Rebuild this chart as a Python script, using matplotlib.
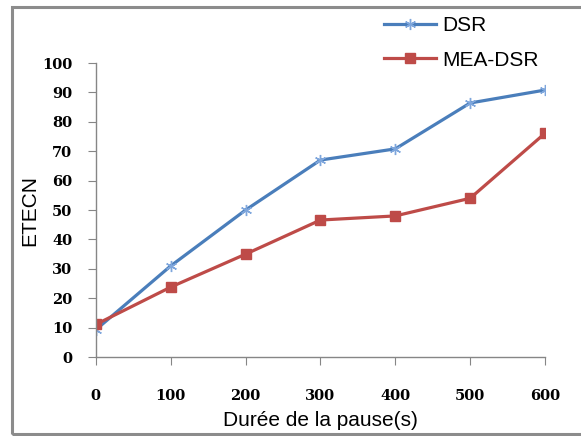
#!/usr/bin/env python3
"""ETECN vs. pause duration for DSR and MEA-DSR."""

import matplotlib

matplotlib.use("Agg")
import matplotlib.pyplot as plt
from matplotlib.patches import Rectangle

pause = [0, 100, 200, 300, 400, 500, 600]
dsr = [9.3, 31, 50, 67, 70.8, 86.4, 90.8]
mea_dsr = [11.1, 23.8, 35, 46.6, 48, 54, 76.1]
yticks = [0, 10, 20, 30, 40, 50, 60, 70, 80, 90, 100]

BLUE = "#4a7ebb"
BLUE_MK = "#7ea6dc"
RED = "#be4b48"
GRAY = "#868686"


def main() -> int:
    fig = plt.figure(figsize=(5.81, 4.36), dpi=100)
    # outer chart frame (right edge runs off the picture)
    fig.patches.append(Rectangle((0.0207, 0.005), 1.05, 0.979, transform=fig.transFigure,
                                 fill=False, edgecolor="#8c8c8c", linewidth=2.2))

    ax = fig.add_axes([0.165, 0.181, 0.773, 0.6745])
    ax.plot(pause, dsr, color=BLUE, lw=2.3, marker=(6, 2, 0), ms=8,
            mec=BLUE_MK, mew=1.0, label="DSR")
    ax.plot(pause, mea_dsr, color=RED, lw=2.3, marker="s", ms=7,
            mfc=RED, mec=RED, label="MEA-DSR")

    ax.set_xlim(0, 600)
    ax.set_ylim(0, 100)
    ax.set_xticks(pause)
    ax.set_yticks(yticks)
    for s in ("top", "right"):
        ax.spines[s].set_visible(False)
    for s in ("left", "bottom"):
        ax.spines[s].set_color(GRAY)
        ax.spines[s].set_linewidth(1.0)
    ax.tick_params(axis="x", length=6, color=GRAY, pad=17)
    ax.tick_params(axis="y", length=6, color=GRAY, pad=11)
    for lab in ax.get_xticklabels() + ax.get_yticklabels():
        lab.set_fontfamily("DejaVu Serif")
        lab.set_fontweight("bold")
        lab.set_fontsize(10.5)

    ax.set_xlabel("Durée de la pause(s)", family="Liberation Sans", fontsize=15, labelpad=6)
    ax.set_ylabel("ETECN", family="Liberation Sans", fontsize=15, labelpad=2)

    fig.legend(loc="upper left", bbox_to_anchor=(0.643, 0.987), frameon=False,
               prop={"family": "Liberation Sans", "size": 15}, borderpad=0,
               handlelength=2.5, handletextpad=0.3, labelspacing=0.75)

    fig.savefig("out.png", dpi=100)
    return 0


if __name__ == "__main__":
    raise SystemExit(main())
